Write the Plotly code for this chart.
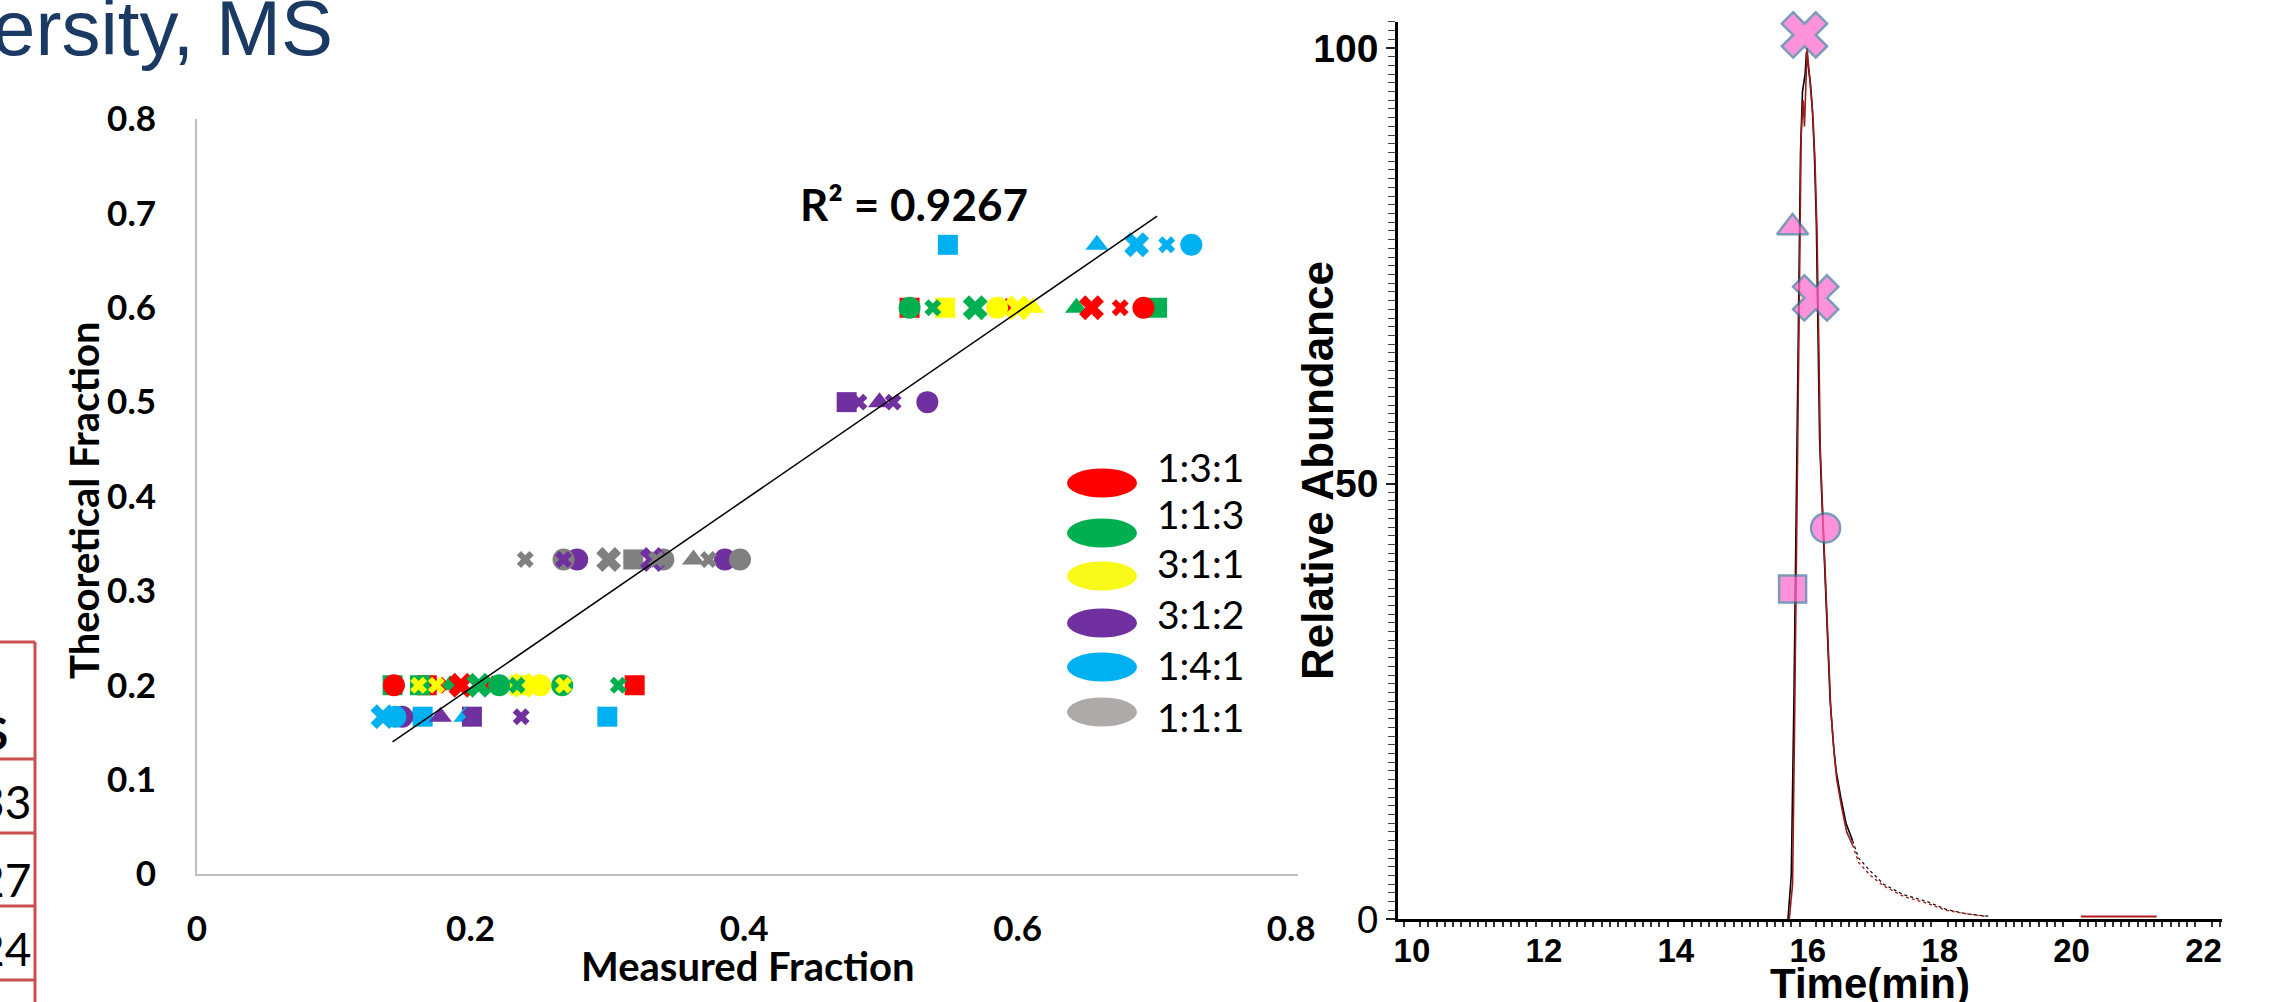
import plotly.graph_objects as go

W, H = 2284, 1002
def px(x): return x / W
def py(y): return 1 - y / H

# ---------------- Left chart data (measured vs theoretical fraction) ----------------
ratio_labels = ["1:3:1", "1:1:3", "3:1:1", "3:1:2", "1:4:1", "1:1:1"]
series_colors = ["#FF0000", "#00B050", "#FFFF00", "#7030A0", "#00B0F0", "#808080"]
legend_colors = ["#FF0000", "#00B050", "#F9F91A", "#7030A0", "#00B0F0", "#AEAAAA"]

r131_meas = [0.144, 0.168, 0.176, 0.193, 0.216, 0.320, 0.521, 0.592, 0.654, 0.675, 0.692]
r131_theo = [0.2] * 6 + [0.6] * 5
r131_mark = ["o", "s", "x", "X", "^", "s", "s", "^", "X", "x", "o"]

r113_meas = [0.143, 0.163, 0.185, 0.206, 0.221, 0.234, 0.267, 0.308, 0.521, 0.538, 0.569, 0.643, 0.702]
r113_theo = [0.2] * 8 + [0.6] * 5
r113_mark = ["s", "s", "^", "X", "o", "x", "o", "x", "o", "x", "X", "^", "s"]

r311_meas = [0.162, 0.175, 0.236, 0.238, 0.251, 0.268, 0.547, 0.585, 0.600, 0.611]
r311_theo = [0.2] * 6 + [0.6] * 4
r311_mark = ["x", "x", "s", "X", "o", "x", "s", "o", "X", "^"]

r312_meas = [0.475, 0.484, 0.499, 0.509, 0.534, 0.268, 0.278, 0.333, 0.386, 0.150, 0.178, 0.201, 0.200, 0.237]
r312_theo = [0.5] * 5 + [0.3333] * 4 + [0.1667] * 5
r312_mark = ["s", "x", "^", "x", "o", "x", "o", "X", "o", "o", "^", "s", "x", "x"]

r141_meas = [0.549, 0.658, 0.687, 0.709, 0.727, 0.136, 0.145, 0.160, 0.165, 0.196, 0.300]
r141_theo = [0.6667] * 5 + [0.1667] * 6
r141_mark = ["s", "^", "X", "x", "o", "X", "o", "^", "s", "^", "s"]

r111_meas = [0.240, 0.268, 0.301, 0.319, 0.336, 0.341, 0.363, 0.374, 0.397]
r111_theo = [0.3333] * 9
r111_mark = ["x", "o", "X", "s", "x", "o", "^", "x", "o"]

trend_x = [0.143, 0.702]
trend_y = [0.140, 0.697]
r2_text = "R² = 0.9267"

left_xticks = [0, 0.2, 0.4, 0.6, 0.8]
left_yticks = [0, 0.1, 0.2, 0.3, 0.4, 0.5, 0.6, 0.7, 0.8]

# ---------------- Right chart data (chromatogram) ----------------
black_t = [15.70, 15.75, 15.79, 15.81, 15.85, 15.89, 15.92, 15.96, 15.98, 16.01, 16.04, 16.07,
           16.10, 16.13, 16.16, 16.18, 16.21, 16.24, 16.29, 16.34, 16.39, 16.43, 16.50, 16.58, 16.68]
black_v = [0.0, 5.0, 25.0, 39.0, 65.0, 88.0, 95.0, 97.0, 99.5, 98.0, 96.0, 93.0,
           88.0, 80.0, 66.0, 55.0, 49.0, 43.0, 34.0, 25.0, 20.0, 17.0, 14.0, 11.0, 9.0]
black_tail_t = [16.68, 16.77, 16.95, 17.15, 17.45, 17.81, 18.10, 18.40, 18.76]
black_tail_v = [9.0, 7.0, 5.5, 4.0, 2.8, 2.0, 1.1, 0.6, 0.3]

red_t = [15.72, 15.77, 15.80, 15.83, 15.87, 15.90, 15.93, 15.95, 15.99, 16.02, 16.05, 16.08,
         16.11, 16.14, 16.17, 16.19, 16.22, 16.25, 16.30, 16.35, 16.40, 16.44, 16.51, 16.59, 16.68]
red_v = [0.0, 4.0, 22.0, 41.0, 67.0, 90.0, 94.0, 91.0, 100.0, 97.0, 94.0, 92.0,
         87.0, 79.0, 65.0, 54.0, 48.0, 42.0, 33.0, 24.0, 19.0, 16.0, 13.0, 10.0, 8.5]
red_tail_t = [16.68, 16.77, 16.95, 17.15, 17.45, 17.81, 18.10, 18.40, 18.70]
red_tail_v = [8.5, 6.5, 5.0, 3.8, 2.6, 1.8, 1.0, 0.6, 0.3]
red_base_t = [20.14, 21.29]
red_base_v = [0.3, 0.3]

chrom_mark_t = [15.95, 15.77, 15.77, 16.12, 16.27]
chrom_mark_v = [101.5, 79.4, 37.9, 71.3, 44.9]
chrom_mark_sym = ["x", "triangle-up", "square", "x", "circle"]

right_xticks = [10, 12, 14, 16, 18, 20, 22]
right_yticks = [0, 50, 100]
right_yticktext = ["0", "<b>50</b>", "<b>100</b>"]

# ---------------- Slide fragments ----------------
title_text = "University, MS"
table_texts = ["<b>S</b>", "33", "27", "24"]

# ---------------- Build figure ----------------
fig = go.Figure()

sym_map = {"s": ("square", 20), "^": ("triangle-up", 20), "o": ("circle", 22),
           "X": ("x", 22), "x": ("x", 15)}
series = [
    (r131_meas, r131_theo, r131_mark),
    (r113_meas, r113_theo, r113_mark),
    (r311_meas, r311_theo, r311_mark),
    (r312_meas, r312_theo, r312_mark),
    (r141_meas, r141_theo, r141_mark),
    (r111_meas, r111_theo, r111_mark),
]

for code in ["s", "^", "o", "X", "x"]:
    xs, ys, cs = [], [], []
    for (mx, ty, mk), col in zip(series, series_colors):
        for a, b, m in zip(mx, ty, mk):
            if m == code:
                xs.append(a); ys.append(b); cs.append(col)
    sym, size = sym_map[code]
    fig.add_trace(go.Scatter(x=xs, y=ys, mode="markers", xaxis="x", yaxis="y",
                             marker=dict(symbol=sym, size=size, color=cs, line=dict(width=0)),
                             cliponaxis=False, showlegend=False, hoverinfo="skip"))

fig.add_trace(go.Scatter(x=trend_x, y=trend_y, mode="lines", xaxis="x", yaxis="y",
                         line=dict(color="black", width=1.5), showlegend=False))

# chromatogram
fig.add_trace(go.Scatter(x=black_t, y=black_v, mode="lines", xaxis="x2", yaxis="y2",
                         line=dict(color="black", width=1.6), showlegend=False))
fig.add_trace(go.Scatter(x=black_tail_t, y=black_tail_v, mode="lines", xaxis="x2", yaxis="y2",
                         line=dict(color="black", width=1.2, dash="dot"), showlegend=False))
fig.add_trace(go.Scatter(x=red_t, y=red_v, mode="lines", xaxis="x2", yaxis="y2",
                         line=dict(color="#9B1B1B", width=1.6), showlegend=False))
fig.add_trace(go.Scatter(x=red_tail_t, y=red_tail_v, mode="lines", xaxis="x2", yaxis="y2",
                         line=dict(color="#B01C1C", width=1.4, dash="dot"), showlegend=False))
fig.add_trace(go.Scatter(x=red_base_t, y=red_base_v, mode="lines", xaxis="x2", yaxis="y2",
                         line=dict(color="#B01C1C", width=2), showlegend=False))

csize = {"x": 40, "triangle-up": 27, "square": 27, "circle": 29}
fig.add_trace(go.Scatter(x=chrom_mark_t, y=chrom_mark_v, mode="markers", xaxis="x2", yaxis="y2",
                         marker=dict(symbol=chrom_mark_sym, size=[csize[s] for s in chrom_mark_sym],
                                     color="#FF66CC", line=dict(color="#41719C", width=2.5)),
                         cliponaxis=False, showlegend=False))

calibri = "Lato"
arial = "Liberation Sans"

# right y scale: 0 -> 919 px, 100 -> 48 px
R_TOP = 103.0
y2_top_px = 919 - R_TOP * 8.71
X2_RANGE = [9.788, 22.28]
X2_DOM = [px(1398), px(2222)]

fig.update_layout(
    width=W, height=H, margin=dict(l=0, r=0, t=0, b=0, autoexpand=False),
    paper_bgcolor="white", plot_bgcolor="rgba(0,0,0,0)",
    xaxis=dict(domain=[px(197), px(1298)], range=[0, 0.805], anchor="y", automargin=False,
               showline=True, linecolor="#BFBFBF", linewidth=2, showgrid=False, zeroline=False,
               tickmode="array", tickvals=left_xticks, ticktext=[f"{v:g}" for v in left_xticks],
               ticks="outside", ticklen=23, tickcolor="rgba(0,0,0,0)",
               tickfont=dict(family=calibri, size=35, color="black", weight="bold")),
    yaxis=dict(domain=[py(874), py(119)], range=[0, 0.8], anchor="x", automargin=False,
               showline=True, linecolor="#BFBFBF", linewidth=2, showgrid=False, zeroline=False,
               tickmode="array", tickvals=left_yticks, ticktext=[f"{v:g}" for v in left_yticks],
               ticks="outside", ticklen=32, tickcolor="rgba(0,0,0,0)",
               tickfont=dict(family=calibri, size=35, color="black", weight="bold")),
    # labelled time axis (labels close to the line)
    xaxis2=dict(domain=X2_DOM, range=X2_RANGE, anchor="y2", automargin=False,
                showline=True, linecolor="black", linewidth=2.5, showgrid=False, zeroline=False,
                tickmode="linear", tick0=10, dtick=2, ticks="outside", ticklen=1, tickwidth=1,
                tickcolor="rgba(0,0,0,0)",
                minor=dict(ticks="outside", dtick=0.125, tick0=10, ticklen=5, tickwidth=1.5, tickcolor="#333"),
                tickfont=dict(family=arial, size=33, color="black", weight="bold")),
    # half-minute ticks
    xaxis3=dict(domain=X2_DOM, range=X2_RANGE, anchor="y2", overlaying="x2", automargin=False,
                showline=False, showgrid=False, zeroline=False, showticklabels=False,
                tickmode="linear", tick0=10, dtick=0.5, ticks="outside", ticklen=8, tickwidth=1.5,
                tickcolor="#333"),
    # major 2-minute ticks
    xaxis4=dict(domain=X2_DOM, range=X2_RANGE, anchor="y2", overlaying="x2", automargin=False,
                showline=False, showgrid=False, zeroline=False, showticklabels=False,
                tickmode="linear", tick0=10, dtick=2, ticks="outside", ticklen=12, tickwidth=2,
                tickcolor="#222"),
    yaxis2=dict(domain=[py(919), py(y2_top_px)], range=[0, R_TOP], anchor="x2", automargin=False,
                showline=True, linecolor="black", linewidth=2.5, showgrid=False, zeroline=False,
                tickmode="array", tickvals=right_yticks, ticktext=right_yticktext,
                ticks="outside", ticklen=9, tickwidth=2, tickcolor="#222",
                minor=dict(ticks="outside", tickmode="linear", tick0=0, dtick=1, ticklen=7,
                           tickwidth=1, tickcolor="#444"),
                tickfont=dict(family=arial, size=39, color="black")),
)

ann = []
ann.append(dict(text=r2_text, x=px(914), y=py(204), xref="paper", yref="paper",
                showarrow=False, xanchor="center", yanchor="middle",
                font=dict(family=calibri, size=44, color="black", weight="bold")))
ann.append(dict(text="Theoretical Fraction", x=px(84), y=py(500), xref="paper", yref="paper",
                showarrow=False, textangle=-90, xanchor="center", yanchor="middle",
                font=dict(family=calibri, size=40, color="black", weight="bold")))
ann.append(dict(text="Measured Fraction", x=px(748), y=py(966), xref="paper", yref="paper",
                showarrow=False, xanchor="center", yanchor="middle",
                font=dict(family=calibri, size=40, color="black", weight="bold")))
ann.append(dict(text="Relative Abundance", x=px(1317), y=py(471), xref="paper", yref="paper",
                showarrow=False, textangle=-90, xanchor="center", yanchor="middle",
                font=dict(family=arial, size=44, color="black", weight="bold")))
ann.append(dict(text="Time(min)", x=px(1870), y=py(983), xref="paper", yref="paper",
                showarrow=False, xanchor="center", yanchor="middle",
                font=dict(family=arial, size=42, color="black", weight="bold")))
ann.append(dict(text=title_text, x=px(335), y=py(28), xref="paper", yref="paper",
                showarrow=False, xanchor="right", yanchor="middle",
                font=dict(family=arial, size=78, color="#1B3A63")))

# legend (ellipse swatches + labels)
leg_ell_y = [483, 533, 576, 623, 667, 712]
leg_txt_y = [467, 514, 563, 614, 665, 717]
shapes = []
for lab, col, ey, ty in zip(ratio_labels, legend_colors, leg_ell_y, leg_txt_y):
    shapes.append(dict(type="circle", xref="paper", yref="paper",
                       x0=px(1067), x1=px(1137), y0=py(ey + 14.5), y1=py(ey - 14.5),
                       fillcolor=col, line=dict(width=0)))
    ann.append(dict(text=lab, x=px(1155), y=py(ty), xref="paper", yref="paper",
                    showarrow=False, xanchor="left", yanchor="middle",
                    font=dict(family=calibri, size=39, color="black")))

# table fragment at far left
tcol = "#C9504F"
shapes.append(dict(type="line", xref="paper", yref="paper", x0=px(35), x1=px(35), y0=py(642), y1=py(1002),
                   line=dict(color=tcol, width=3)))
for yy in [642, 759, 833, 906, 980]:
    shapes.append(dict(type="line", xref="paper", yref="paper", x0=px(0), x1=px(35), y0=py(yy), y1=py(yy),
                       line=dict(color=tcol, width=3)))
for t, xr, yy in zip(table_texts, [10, 33, 33, 33], [732, 801, 879, 948]):
    ann.append(dict(text=t, x=px(xr), y=py(yy), xref="paper", yref="paper",
                    showarrow=False, xanchor="right", yanchor="middle",
                    font=dict(family="Liberation Sans Narrow, " + calibri, size=46, color="black")))

fig.update_layout(annotations=ann, shapes=shapes)
fig.write_html("out.html", config={"displayModeBar": False},
               post_script="document.body.style.margin='0';document.body.style.padding='0';"
                           "document.body.style.overflow='hidden';")
